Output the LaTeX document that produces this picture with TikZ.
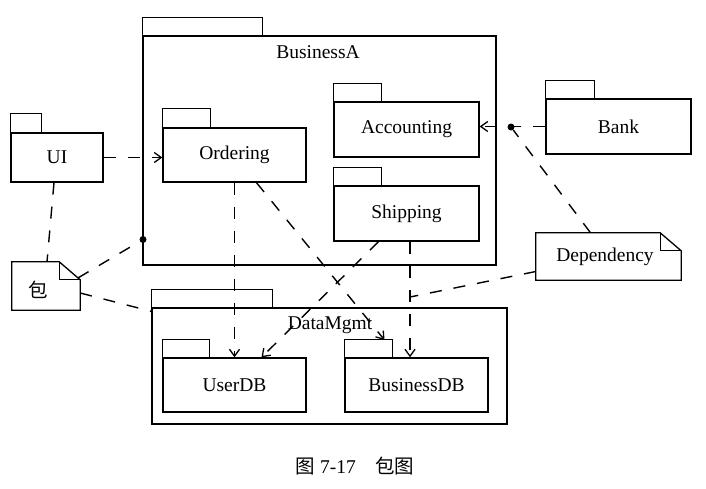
\documentclass[tikz,border=0pt]{standalone}
\usepackage{fontspec}
\setmainfont{Liberation Serif}
\newfontfamily\cjk{Noto Sans CJK SC}
\usetikzlibrary{arrows.meta}
\tikzset{
  pkgbody/.style={draw, line width=1.3pt, inner sep=0pt, font=\fontsize{19.5}{22}\selectfont},
  notebox/.style={inner sep=0pt, font=\fontsize{19.5}{22}\selectfont},
  outline/.style={line width=1.3pt, line join=miter},
  dep/.style={line width=1.4pt, dash pattern=on 12pt off 12pt},
  deparrow/.style={dep, -{Straight Barb[length=7pt,width=10pt,line width=1.3pt]}},
  dotc/.style={circle, fill=black, inner sep=0pt, minimum size=7pt}
}
\begin{document}
\begin{tikzpicture}[x=1pt,y=-1pt]
\useasboundingbox (0,0) rectangle (706,488);
% BusinessA
\node[pkgbody, minimum width=353pt, minimum height=229pt] (busa) at (319.5,150.5) {};
\draw[outline] (busa.north west) rectangle ++(120,-18);
\node[font=\fontsize{19.5}{22}\selectfont] (busalbl) at (318,52) {BusinessA};
% DataMgmt
\node[pkgbody, minimum width=355pt, minimum height=116pt] (dm) at (329.5,366) {};
\draw[outline] (dm.north west) rectangle ++(121,-18);
\node[font=\fontsize{19.5}{22}\selectfont] (dmlbl) at (330,325) {DataMgmt};
% packages
\node[pkgbody, minimum width=143pt, minimum height=54pt] (ordering) at (234.5,155) {Ordering};
\draw[outline] (ordering.north west) rectangle ++(48,-19);
\node[pkgbody, minimum width=145pt, minimum height=55pt] (accounting) at (406.5,129.5) {Accounting};
\draw[outline] (accounting.north west) rectangle ++(48,-18);
\node[pkgbody, minimum width=145pt, minimum height=55pt] (shipping) at (406.5,213.5) {Shipping};
\draw[outline] (shipping.north west) rectangle ++(48,-18);
\node[pkgbody, minimum width=92pt, minimum height=49pt] (ui) at (57,157.5) {UI};
\draw[outline] (ui.north west) rectangle ++(31,-19);
\node[pkgbody, minimum width=145pt, minimum height=55pt] (bank) at (618.5,126.5) {Bank};
\draw[outline] (bank.north west) rectangle ++(49,-18);
\node[pkgbody, minimum width=143pt, minimum height=54pt] (userdb) at (234.5,385) {UserDB};
\draw[outline] (userdb.north west) rectangle ++(47,-18);
\node[pkgbody, minimum width=143pt, minimum height=54pt] (bizdb) at (416.5,385) {BusinessDB};
\draw[outline] (bizdb.north west) rectangle ++(48,-18);
% notes
\node[notebox, minimum width=68pt, minimum height=48pt] (note1) at (46,286) {};
\node[font=\fontsize{19.5}{22}\selectfont\cjk] (note1txt) at (38,290) {包};
\draw[outline] (note1.south west) -- (note1.north west) -- ([xshift=-21pt]note1.north east)
  -- ([yshift=-18pt]note1.north east) -- (note1.south east) -- cycle;
\draw[outline] ([xshift=-21pt]note1.north east) |- ([yshift=-18pt]note1.north east);
\node[notebox, minimum width=145pt, minimum height=47pt] (note2) at (608.5,256.5) {};
\node[font=\fontsize{19.5}{22}\selectfont] (note2txt) at (605,257) {Dependency};
\draw[outline] (note2.south west) -- (note2.north west) -- ([xshift=-21pt]note2.north east)
  -- ([yshift=-18pt]note2.north east) -- (note2.south east) -- cycle;
\draw[outline] ([xshift=-21pt]note2.north east) |- ([yshift=-18pt]note2.north east);
% dots and junction
\node[dotc] (dot1) at (143,239.5) {};
\node[dotc] (dot2) at (511,127) {};
\coordinate (junc) at (410,297);
% dependencies
\draw[deparrow] (ui.east) -- (ordering.west |- ui.east);
\draw[deparrow] (bank.west) -- (accounting.east |- bank.west);
\draw[deparrow] (ordering.south) -- (userdb.north);
\draw[deparrow] ([xshift=22pt]ordering.south) -- ([xshift=-32pt]bizdb.north |- 0,340);
\draw[deparrow] ([xshift=-28pt]shipping.south) -- ([xshift=27pt]userdb.north);
\draw[deparrow] ([xshift=3.5pt]shipping.south) -- ([xshift=-6.5pt]bizdb.north);
% note links
\draw[dep] ([xshift=-3pt]ui.south) -- ([xshift=1pt]note1.north);
\draw[dep] ([xshift=-2pt,yshift=-16pt]note1.north east) -- (dot1);
\draw[dep] ([yshift=-7pt]note1.east) -- ([yshift=-4pt]dm.north west);
\draw[dep] ([xshift=-18pt]note2.north) -- (dot2);
\draw[dep] ([yshift=-15pt]note2.west) -- (junc);
% caption
\node[font=\fontsize{19.5}{22}\selectfont] (cap) at (355,466) {{\cjk 图} 7-17\hspace{1em}{\cjk 包图}};
\end{tikzpicture}
\end{document}
